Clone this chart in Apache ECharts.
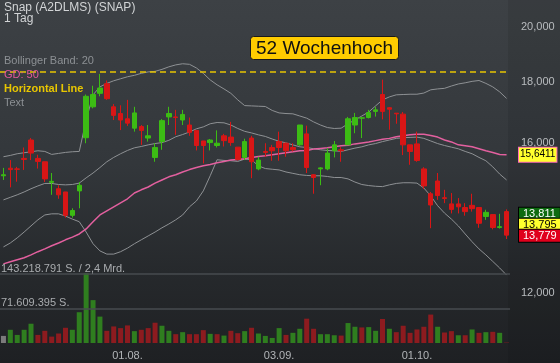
<!DOCTYPE html>
<html><head><meta charset="utf-8">
<script src="https://cdn.jsdelivr.net/npm/echarts@6/dist/echarts.min.js"></script>
<style>html,body{margin:0;padding:0;background:#2c3034}#c{width:560px;height:363px}</style>
</head><body><div id="c"></div>
<script>
const dates = ['08.07.','09.07.','10.07.','11.07.','12.07.','15.07.','16.07.','17.07.','18.07.','19.07.',
'22.07.','23.07.','24.07.','25.07.','26.07.','29.07.','30.07.','31.07.','01.08.','02.08.',
'05.08.','06.08.','07.08.','08.08.','09.08.','12.08.','13.08.','14.08.','15.08.','16.08.',
'19.08.','20.08.','21.08.','22.08.','23.08.','26.08.','27.08.','28.08.','29.08.','30.08.',
'03.09.','04.09.','05.09.','06.09.','09.09.','10.09.','11.09.','12.09.','13.09.','16.09.',
'17.09.','18.09.','19.09.','20.09.','23.09.','24.09.','25.09.','26.09.','27.09.','30.09.',
'01.10.','02.10.','03.10.','04.10.','07.10.','08.10.','09.10.','10.10.','11.10.','14.10.',
'15.10.','16.10.','17.10.','18.10.'];
const xLabels = ['01.08.','03.09.','01.10.'];

const open = [15.02,15.24,15.22,15.53,16.09,15.53,15.43,14.83,14.65,14.56,
13.92,14.59,16.16,17.15,17.60,17.93,17.15,16.93,16.76,16.46,
16.51,16.15,15.56,16.04,16.82,16.82,16.72,16.56,16.39,16.06,
16.01,15.92,16.22,16.18,15.87,15.56,16.15,15.22,15.74,15.86,
16.04,15.99,15.86,15.94,16.28,15.05,15.22,15.22,15.76,15.79,
15.94,16.56,16.78,16.80,17.00,17.56,17.12,16.94,16.91,15.94,
15.97,15.22,14.51,14.87,14.40,14.23,14.23,14.13,14.19,14.13,
13.89,13.94,13.60,14.02];
const close = [15.05,15.20,15.21,15.50,15.69,15.44,14.93,14.86,14.48,13.92,
14.05,14.75,17.50,17.56,17.78,17.42,16.87,16.72,16.62,16.95,
16.39,16.22,15.86,16.70,16.93,16.80,16.90,16.33,15.92,15.92,
16.09,15.99,16.07,16.01,15.50,16.04,15.43,15.48,15.71,15.76,
15.86,15.76,15.79,16.56,15.26,14.97,15.25,15.69,15.94,15.76,
16.76,16.80,16.79,16.96,17.05,17.00,17.07,16.92,15.94,15.74,
15.47,14.73,14.20,14.46,14.38,14.08,14.15,14.02,14.10,13.71,
14.00,13.60,13.62,13.40];
const low = [14.90,14.69,14.85,15.19,15.48,15.23,14.84,14.48,14.37,13.86,
13.86,14.11,15.99,17.10,17.50,17.38,16.72,16.40,16.53,16.35,
15.94,16.04,15.43,15.79,16.56,16.25,16.56,16.22,15.77,15.38,
15.77,15.86,15.89,15.91,15.47,15.48,14.95,15.18,15.58,15.46,
15.46,15.58,15.74,15.91,15.10,14.51,14.75,15.18,15.56,15.43,
15.94,16.30,16.15,16.77,16.83,16.74,16.41,16.60,15.63,15.34,
15.43,14.65,13.58,14.34,14.25,13.97,13.97,13.91,14.02,13.59,
13.80,13.55,13.57,13.30];
const high = [15.25,15.48,15.28,15.86,16.15,15.64,15.43,15.10,14.75,14.56,
14.11,14.84,17.56,17.86,18.27,18.04,17.24,17.20,17.38,17.15,
16.56,16.56,15.99,16.75,17.15,17.05,17.05,16.80,16.39,16.06,
16.12,16.39,16.28,16.66,15.87,16.13,16.22,15.58,15.99,15.94,
16.35,16.01,15.99,16.56,16.54,15.07,15.27,15.84,16.06,15.87,
16.82,16.95,16.82,17.05,17.15,18.07,17.14,16.94,16.98,15.94,
16.35,15.27,14.56,15.10,14.62,14.53,14.39,14.25,14.51,14.13,
14.07,13.94,13.96,14.08];
const volumeM = [14.7,27.4,16.8,27.4,40.0,16.8,25.3,13.3,19.7,31.6,
27.4,63.9,145.0,89.0,54.8,25.3,34.4,30.9,36.5,24.6,
27.4,30.9,42.1,35.8,25.3,18.3,22.5,18.3,18.3,26.7,
19.0,18.3,15.4,25.3,20.4,24.6,31.6,19.7,14.7,10.5,
30.9,16.8,21.1,29.5,50.5,29.5,18.3,18.3,16.1,15.4,
41.4,33.7,32.3,33.0,25.3,49.8,29.5,22.5,35.8,21.1,
28.1,33.7,59.0,33.7,21.8,24.6,16.1,16.1,28.1,21.1,
22.5,23.2,21.1,0.8];
const bbUpper = [15.58,15.62,15.67,15.70,15.73,15.76,15.74,15.65,15.68,15.71,
15.73,15.74,16.72,17.55,17.82,17.94,18.03,18.10,18.17,18.22,
18.29,18.34,18.36,18.43,18.52,18.59,18.63,18.61,18.48,18.29,
18.06,17.89,17.75,17.60,17.38,17.19,17.18,17.17,17.16,17.03,
16.95,16.93,16.92,16.85,16.78,16.66,16.56,16.48,16.45,16.46,
16.60,16.72,16.85,16.98,17.18,17.38,17.48,17.55,17.56,17.57,
17.57,17.61,17.72,17.75,17.77,17.85,17.92,17.96,18.01,18.04,
17.94,17.82,17.65,17.43];
const bbMid = [14.34,14.41,14.48,14.56,14.65,14.73,14.80,14.80,14.77,14.76,
14.77,14.81,14.96,15.10,15.26,15.43,15.56,15.67,15.77,15.85,
15.89,15.94,15.98,16.01,16.08,16.19,16.26,16.34,16.44,16.50,
16.60,16.64,16.63,16.56,16.45,16.36,16.31,16.25,16.20,16.12,
16.05,16.00,15.94,15.88,15.86,15.82,15.79,15.77,15.76,15.74,
15.79,15.84,15.88,15.94,15.98,16.04,16.09,16.14,16.16,16.17,
16.18,16.14,16.06,15.98,15.92,15.87,15.82,15.74,15.67,15.56,
15.46,15.28,15.07,14.90];
const bbLower = [13.10,13.20,13.33,13.48,13.64,13.80,13.93,13.96,13.96,13.90,
13.82,13.75,13.48,13.18,13.00,12.92,12.92,12.98,13.07,13.18,
13.28,13.38,13.48,13.59,13.69,13.80,13.93,14.15,14.31,14.59,
15.02,15.49,15.47,15.46,15.44,15.51,15.49,15.31,15.23,15.21,
15.19,15.13,15.09,15.05,15.03,15.02,15.02,15.00,14.97,14.97,
14.93,14.84,14.77,14.74,14.72,14.71,14.76,14.80,14.82,14.82,
14.81,14.67,14.45,14.18,13.98,13.82,13.64,13.43,13.23,13.05,
12.90,12.74,12.58,12.41];
const sma50 = [12.68,12.73,12.78,12.83,12.90,12.98,13.05,13.13,13.20,13.28,
13.35,13.43,13.56,13.75,13.93,14.04,14.15,14.26,14.37,14.53,
14.62,14.70,14.81,14.90,14.99,15.05,15.13,15.20,15.26,15.31,
15.35,15.40,15.44,15.48,15.50,15.52,15.56,15.59,15.61,15.64,
15.67,15.70,15.73,15.76,15.77,15.81,15.83,15.85,15.88,15.91,
15.93,15.97,16.00,16.03,16.07,16.11,16.14,16.19,16.22,16.25,
16.27,16.27,16.23,16.18,16.09,16.03,15.94,15.91,15.88,15.82,
15.76,15.71,15.65,15.6411];

const priceTicks = [12, 16, 18, 20];
const priceRange = [10.89, 21.06];
const high52 = 18.27;
const quotes = [13.811, 13.795, 13.779];
const volLevels = [71.609395, 143.218791];
const volLabels = ['71.609.395 S.', '143.218.791 S. / 2,4 Mrd.'];

const L = Math.log;
const fmt = (v, d) => v.toFixed(d).replace('.', ',');
const FONT = '"Liberation Sans", Arial, sans-serif';
const GREEN = '#3cbc14', RED = '#d81616';

// volume panel: 143.2M line at y=274, zero at y=343; extra headroom above
const VOL_TOP = 254, VOL_BOTTOM = 343, VOL_LINE_Y = 274;
const volMax = volLevels[1] * (VOL_BOTTOM - VOL_TOP) / (VOL_BOTTOM - VOL_LINE_Y);

const candleData = open.map((o, i) => [L(o), L(close[i]), L(low[i]), L(high[i])]);
const volData = volumeM.map((v, i) => ({
  value: v,
  itemStyle: { color: i === 0 ? '#7b7b7b' : (close[i] > close[i - 1] ? '#2f7e1f' : '#8d1b1f') }
}));
const lineSeries = (name, arr, color, width, z, extra) => Object.assign({
  name, type: 'line', data: arr.map(L), xAxisIndex: 0, yAxisIndex: 0,
  symbol: 'none', silent: true, z, clip: false,
  lineStyle: { color, width }
}, extra || {});
const hiddenLine = { color: 'rgba(0,0,0,0)', width: 0 };
const tagStyle = (bg, fg) => ({ backgroundColor: bg, color: fg, borderColor: '#000', borderWidth: 1,
  padding: [1, 4, 0, 4], fontSize: 11, lineHeight: 11, fontFamily: FONT });

const chart = echarts.init(document.getElementById('c'), null, { renderer: 'canvas' });
chart.setOption({
  animation: false,
  textStyle: { fontFamily: FONT },
  backgroundColor: {
    type: 'linear', x: 0, y: 0, x2: 0, y2: 1,
    colorStops: [
      { offset: 0, color: '#3d4145' },
      { offset: 0.45, color: '#33373b' },
      { offset: 0.75, color: '#26292c' },
      { offset: 1, color: '#1e2023' }
    ]
  },
  graphic: [{
    type: 'rect', shape: { x: 508, y: 0, width: 52, height: 363 },
    style: { fill: 'rgba(0,0,0,0.08)' }, silent: true, z: -1
  }],
  title: [
    { text: 'Snap (A2DLMS) (SNAP)', left: 4, top: 2, padding: 0, textStyle: { color: '#d2d4d6', fontSize: 12, fontWeight: 'normal', fontFamily: FONT } },
    { text: '1 Tag', left: 4, top: 13, padding: 0, textStyle: { color: '#d2d4d6', fontSize: 12, fontWeight: 'normal', fontFamily: FONT } },
    { text: 'Bollinger Band: 20', left: 4, top: 55, padding: 0, textStyle: { color: '#8c9094', fontSize: 11, fontWeight: 'normal', fontFamily: FONT } },
    { text: 'GD: 50', left: 4, top: 69, padding: 0, textStyle: { color: '#e3579b', fontSize: 11, fontWeight: 'normal', fontFamily: FONT } },
    { text: 'Horizontal Line', left: 4, top: 83, padding: 0, textStyle: { color: '#e8c600', fontSize: 11, fontWeight: 'bold', fontFamily: FONT } },
    { text: 'Text', left: 4, top: 97, padding: 0, textStyle: { color: '#8c9094', fontSize: 11, fontWeight: 'normal', fontFamily: FONT } },
    { text: '52 Wochenhoch', left: 250, top: 36, padding: [3, 6, 2, 6], backgroundColor: '#ffcc00', borderColor: '#1a1a1a', borderWidth: 1, borderRadius: 3,
      textStyle: { color: '#111', fontSize: 19, fontWeight: 'normal', fontFamily: FONT } }
  ],
  grid: [
    { left: 0, top: 0, width: 510, height: 343 },
    { left: 0, top: VOL_TOP, width: 510, height: VOL_BOTTOM - VOL_TOP }
  ],
  xAxis: [
    { type: 'category', gridIndex: 0, data: dates, boundaryGap: true,
      axisLine: { show: false }, axisTick: { show: false }, axisLabel: { show: false }, splitLine: { show: false } },
    { type: 'category', gridIndex: 1, data: dates, boundaryGap: true,
      axisLine: { show: false }, axisTick: { show: false }, splitLine: { show: false },
      axisLabel: { interval: (i, v) => xLabels.includes(v), color: '#b2b5b8', fontSize: 11, margin: 7, fontFamily: FONT } }
  ],
  yAxis: [
    { type: 'value', gridIndex: 0, position: 'right', min: L(priceRange[0]), max: L(priceRange[1]),
      splitLine: { show: false }, axisLine: { show: false }, axisTick: { show: false },
      axisLabel: { customValues: priceTicks.map(L), formatter: v => fmt(Math.exp(v), 3),
        color: '#b9bcbf', fontSize: 11, margin: 11, padding: [3, 0, 0, 0], fontFamily: FONT } },
    { type: 'value', gridIndex: 1, min: 0, max: volMax, show: false, splitLine: { show: false } }
  ],
  series: [
    lineSeries('BB oben', bbUpper, '#8e9194', 1, 2),
    lineSeries('BB Mitte', bbMid, '#8e9194', 1, 2),
    lineSeries('BB unten', bbLower, '#8e9194', 1, 2),
    lineSeries('GD 50', sma50, '#e3609f', 1.5, 3, {
      markLine: {
        silent: true, symbol: ['none', 'none'], animation: false,
        data: [{ yAxis: L(sma50[sma50.length - 1]), lineStyle: hiddenLine,
          label: { show: true, position: 'end', distance: 9, formatter: () => fmt(sma50[sma50.length - 1], 4),
            backgroundColor: '#ffff2e', borderColor: '#ff6eb4', borderWidth: 1, color: '#000',
            padding: [3, 1, 1, 1], fontSize: 10, fontFamily: FONT } }]
      }
    }),
    {
      name: 'Snap', type: 'candlestick', xAxisIndex: 0, yAxisIndex: 0, z: 4, barWidth: 5, clip: false,
      data: candleData,
      itemStyle: { color: GREEN, color0: RED, borderColor: GREEN, borderColor0: RED, borderWidth: 1 },
      markLine: {
        silent: true, symbol: ['none', 'none'], animation: false,
        data: [
          { yAxis: L(high52), lineStyle: { color: '#e8c300', width: 1.5, type: [6, 4] }, label: { show: false } },
          { yAxis: L(quotes[1]), lineStyle: hiddenLine,
            label: { show: true, position: 'end', distance: 9, padding: [5, 0, 0, 0],
              formatter: () => '{g|' + fmt(quotes[0], 3) + '}\n{y|' + fmt(quotes[1], 3) + '}\n{r|' + fmt(quotes[2], 3) + '}',
              lineHeight: 12,
              rich: {
                g: tagStyle('#0d6b10', '#fff'),
                y: tagStyle('#ffff2e', '#000'),
                r: tagStyle('#e0001c', '#fff')
              } } }
        ]
      }
    },
    {
      name: 'Volumen', type: 'bar', xAxisIndex: 1, yAxisIndex: 1, barWidth: 5, clip: false, z: 2,
      data: volData,
      markLine: {
        silent: true, symbol: ['none', 'none'], animation: false,
        lineStyle: { color: '#474b4f', width: 1.5, type: 'solid' },
        data: volLevels.map((v, i) => ({ yAxis: v,
          label: { show: true, position: 'insideStartTop', distance: [1, 0], formatter: () => volLabels[i],
            color: '#a9acaf', fontSize: 11, fontFamily: FONT } }))
      }
    }
  ]
});
</script></body></html>
